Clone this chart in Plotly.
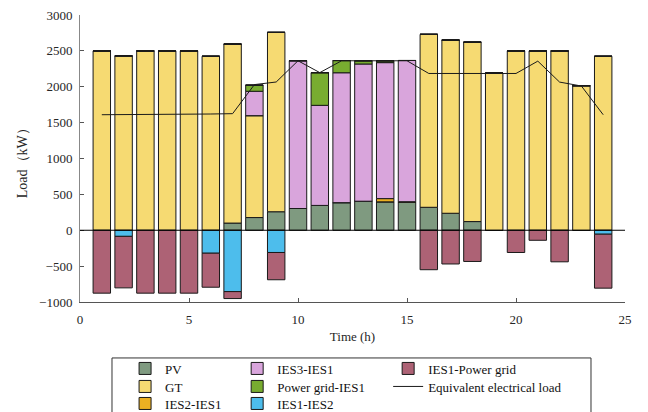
import plotly.graph_objects as go

hours = list(range(1, 25))

pv = [0, 0, 0, 0, 0, 0, 100, 177, 258, 303, 346, 385, 405, 396, 390, 320, 237, 121, 0, 0, 0, 0, 0, 0]
gt = [2500, 2430, 2500, 2500, 2500, 2425, 2495, 1420, 2500, 0, 0, 0, 0, 0, 0, 2410, 2413, 2500, 2190, 2500, 2500, 2500, 2015, 2425]
ies2_ies1 = [0, 0, 0, 0, 0, 0, 0, 0, 0, 0, 0, 0, 0, 45, 8, 0, 0, 0, 0, 0, 0, 0, 0, 0]
ies3_ies1 = [0, 0, 0, 0, 0, 0, 0, 340, 0, 2060, 1395, 1810, 1912, 1895, 1968, 0, 0, 0, 0, 0, 0, 0, 0, 0]
grid_ies1 = [0, 0, 0, 0, 0, 0, 0, 85, 0, 0, 455, 170, 45, 26, 0, 0, 0, 0, 0, 0, 0, 0, 0, 0]
ies1_ies2 = [0, -85, 0, 0, 0, -320, -855, 0, -310, 0, 0, 0, 0, 0, 0, 0, 0, 0, 0, 0, 0, 0, 0, -55]
ies1_grid = [-877, -718, -877, -877, -877, -474, -97, 0, -380, 0, 0, 0, 0, 0, 0, -550, -470, -435, 0, -310, -140, -440, 0, -752]
equiv_load = [1610, 1610, 1610, 1610, 1615, 1620, 1625, 2030, 2066, 2362, 2197, 2362, 2362, 2362, 2362,
              2185, 2185, 2185, 2185, 2185, 2357, 2065, 2010, 1610]

x_ticks = [0, 5, 10, 15, 20, 25]
y_ticks = [-1000, -500, 0, 500, 1000, 1500, 2000, 2500, 3000]

FONT = "Liberation Serif"
EDGE = "#1a1a1a"

# (name, values, colour, legend column, legend row)
series = [
    ("PV", pv, "#7f9a80", 0, 0),
    ("GT", gt, "#f6da72", 0, 1),
    ("IES2-IES1", ies2_ies1, "#ebb022", 0, 2),
    ("IES3-IES1", ies3_ies1, "#d9a5dc", 1, 0),
    ("Power grid-IES1", grid_ies1, "#78ac30", 1, 1),
    ("IES1-IES2", ies1_ies2, "#4dbdec", 1, 2),
    ("IES1-Power grid", ies1_grid, "#ad6275", 2, 0),
]

col_x = [0.193, 0.366, 0.599]
row_y = [0.142, 0.0983, 0.0570]

fig = go.Figure()
legend_layout = {}
idx = 0
for name, vals, color, c, r in series:
    idx += 1
    lg = "legend" if idx == 1 else f"legend{idx}"
    fig.add_trace(go.Bar(
        x=hours, y=vals, name=name, width=0.8,
        marker=dict(color=color, line=dict(color=EDGE, width=1)),
        legend=lg,
    ))
    legend_layout[lg] = (c, r)

idx += 1
lg = f"legend{idx}"
fig.add_trace(go.Scatter(
    x=hours, y=equiv_load, mode="lines", name="Equivalent electrical load",
    line=dict(color="#1a1a1a", width=1), legend=lg,
))
legend_layout[lg] = (2, 1)

fig.add_shape(type="line", xref="x", yref="y", x0=0, x1=25, y0=0, y1=0,
              line=dict(color="#000000", width=1), layer="above")
fig.add_shape(type="rect", xref="paper", yref="paper", x0=0.0587, x1=0.9376, y0=-0.195, y1=-0.6,
              line=dict(color="#333333", width=1))

for lg, (c, r) in legend_layout.items():
    fig.update_layout({lg: dict(
        orientation="v", yanchor="top", xanchor="left",
        x=col_x[c], y=row_y[r], xref="container", yref="container",
        bgcolor="rgba(0,0,0,0)", traceorder="normal",
        font=dict(family=FONT, size=13, color="#111"))})

fig.add_annotation(text="Load（kW）", xref="paper", yref="paper", x=-0.1064, y=0.494,
                   textangle=-90, showarrow=False, xanchor="center", yanchor="middle",
                   font=dict(family=FONT, size=14, color="#262626"))

fig.update_layout(
    width=648, height=412,
    margin=dict(l=80, r=23, t=15, b=110, autoexpand=False),
    paper_bgcolor="white", plot_bgcolor="white",
    barmode="relative", bargap=0.2,
    font=dict(family=FONT, size=13, color="#262626"),
    xaxis=dict(range=[0, 25], tickvals=x_ticks, ticks="inside", ticklen=4, tickcolor="#555",
               showline=True, linecolor="#555", linewidth=1, showgrid=False, zeroline=False,
               ticklabelstandoff=5, automargin=True,
               title=dict(text="Time (h)", standoff=6, font=dict(family=FONT, size=13))),
    yaxis=dict(range=[-1000, 3000], tickvals=y_ticks, ticks="inside", ticklen=4, tickcolor="#555",
               showline=True, linecolor="#888", linewidth=1, showgrid=False, zeroline=False,
               ticklabelstandoff=4, automargin=True),
    showlegend=True,
)

fig.write_html("out.html", config={"displayModeBar": False})

with open("out.html", "r", encoding="utf-8") as f:
    html = f.read()
html = html.replace("<body>", '<body style="margin:0;padding:0;overflow:hidden">', 1)
with open("out.html", "w", encoding="utf-8") as f:
    f.write(html)
